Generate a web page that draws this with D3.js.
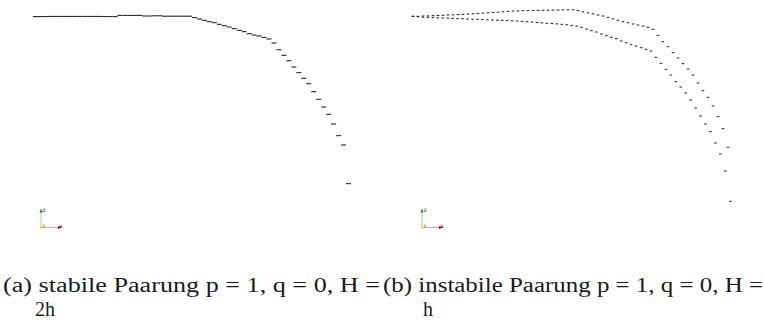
<!DOCTYPE html>
<html>
<head>
<meta charset="utf-8">
<script src="https://cdn.jsdelivr.net/npm/d3@7/dist/d3.min.js"></script>
<style>
  html, body { margin: 0; padding: 0; background: #fff; }
  svg { display: block; }
</style>
</head>
<body>
<svg id="fig" width="764" height="324"></svg>
<script>
// Deflection of each chain node below the support line (positive = downward).
// (a) stable pairing: one node row, drawn as short horizontal cell edges.
const stableDeflection = [
  0.1, 0.1, 0.1, -0.1, -0.1, -0.1, -0.1, -0.1, -0.1, -0.1, -0.1, -0.1, -0.1, -0.1,
  0.1, 0.1, 0.1, -1.1, -1.1, -1.1, -1.1, -1.1, -0.5, -0.5, -0.7, -0.7,
  -0.3, -0.3, -0.3, -0.3, -0.3, -0.3,
  1.1, 2.5, 3.8, 5.2, 6.2, 7.8, 9.2, 10.5, 12.2, 13.8, 15.2, 17.2, 18.5, 19.5,
  20.9, 22.5, 26.5, 33.2, 38.8, 44.2, 50.5, 56.2, 61.8, 67.2, 75.2, 82.8, 90.5,
  97.8, 107.5, 119.2, 128.5, 167.2
];

// (b) unstable pairing: the two node rows separate.
const unstableOuter = [
  -0.2, -0.2, -0.5, -0.6, -0.8, -1.0, -1.2, -1.5, -1.7, -1.9, -2.1, -2.4, -2.7,
  -3.1, -3.4, -3.7, -4.0, -4.3, -4.7, -5.1, -5.4, -5.6, -5.8, -5.9, -6.0, -6.1,
  -6.2, -6.3, -6.4, -6.5, -6.6, -6.7, -6.8,
  -5.9, -4.7, -3.6, -2.6, -1.5, -0.5, 0.9, 2.4, 3.8,
  5.2, 6.2, 7.5, 8.5, 9.5, 10.8, 12.8, 18.8, 25.2, 30.2, 36.2, 41.5, 47.2, 52.5,
  58.5, 66.5, 74.2, 80.8, 89.5, 100.2, 112.2, 130.8
];
const unstableInner = [
  -0.2, 0.3, 0.6, 0.9, 1.1, 1.3, 1.5, 1.7, 1.9, 2.1,
  2.3, 2.5, 2.7, 2.9, 3.1, 3.3, 3.5, 3.7, 3.9, 4.1,
  4.3, 4.5, 4.8, 5.2, 5.6, 6.0, 6.4, 6.8, 7.1, 7.4,
  7.8, 8.3, 8.9, 9.6,
  10.8, 12.5, 14.2, 15.5, 17.5, 19.2, 20.8, 22.2, 24.5, 26.2,
  28.2, 29.5, 31.2, 32.8, 34.5, 40.8, 46.8, 52.8, 58.5, 65.2,
  70.5, 76.5, 83.5, 91.5, 99.5, 107.5, 115.2, 126.5, 137.5, 154.5, 184.8
];

// Caption text
const captionA = ["(a) stabile Paarung p = 1, q = 0, H =", "2h"];
const captionB = ["(b) instabile Paarung p = 1, q = 0, H =", "h"];

const svg = d3.select("#fig");

// Shared vertical scale: deflection -> screen y
const y = d3.scaleLinear().domain([0, 170]).range([16.5, 186.5]);

// ---- Panel (a): horizontal cell edges ----
const xA = d3.scaleLinear().domain([0, stableDeflection.length]).range([33, 351]);
svg.append("g")
  .selectAll("line")
  .data(stableDeflection)
  .join("line")
  .attr("x1", (d, i) => xA(i))
  .attr("x2", (d, i) => xA(i + 1))
  .attr("y1", d => y(d))
  .attr("y2", d => y(d))
  .attr("stroke", "#111")
  .attr("stroke-width", 1);

// ---- Panel (b): node points as short dashes ----
const xOuter = d3.scaleLinear().domain([0, unstableOuter.length - 1]).range([413, 728]);
const xInner = d3.scaleLinear().domain([0, unstableInner.length - 1]).range([413, 730.3]);

function dots(data, xs) {
  svg.append("g")
    .selectAll("line")
    .data(data)
    .join("line")
    .attr("x1", (d, i) => xs(i) - 1.3)
    .attr("x2", (d, i) => xs(i) + 1.3)
    .attr("y1", d => y(d))
    .attr("y2", d => y(d))
    .attr("stroke", "#1a1a1a")
    .attr("stroke-width", 1);
}
dots(unstableOuter, xOuter);
dots(unstableInner, xInner);

// ---- Orientation triads ----
function triad(ox, oy) {
  const g = svg.append("g").attr("transform", `translate(${ox},${oy})`);
  g.append("line").attr("x1", 0).attr("y1", 0).attr("x2", 0).attr("y2", -17)
    .attr("stroke", "#86e886").attr("stroke-width", 1);
  g.append("line").attr("x1", 0).attr("y1", 0).attr("x2", 19).attr("y2", 0)
    .attr("stroke", "#ff9a9a").attr("stroke-width", 1);
  g.append("path").attr("d", "M-1.5,-15 L0,-19 L1.5,-15 Z").attr("fill", "#1c8a1c");
  g.append("path").attr("d", "M17,-1.5 L21,0 L17,1.5 Z").attr("fill", "#b00000");
  g.append("rect").attr("x", -1).attr("y", -1).attr("width", 2).attr("height", 2)
    .attr("fill", "#e8e000");
  g.append("text").attr("x", 1.5).attr("y", -16).text("z")
    .attr("font-family", "DejaVu Sans").attr("font-size", 6).attr("fill", "#1a4d1a");
  g.append("text").attr("x", 18).attr("y", 0).text("x")
    .attr("font-family", "DejaVu Sans").attr("font-size", 6).attr("fill", "#6a1010");
  g.append("text").attr("x", 1.5).attr("y", -0.5).text("y")
    .attr("font-family", "DejaVu Sans").attr("font-size", 5).attr("fill", "#666");
}
triad(41, 227.5);
triad(422, 227.5);

// ---- Captions ----
function caption(lines, x0, width, indent) {
  const t = svg.append("g")
    .attr("font-family", "'Liberation Serif'")
    .attr("font-size", 20)
    .attr("fill", "#1a1a1a");
  t.append("text").attr("x", x0).attr("y", 292)
    .attr("textLength", width).attr("lengthAdjust", "spacingAndGlyphs")
    .style("white-space", "pre")
    .text(lines[0]);
  t.append("text").attr("x", x0 + indent).attr("y", 316)
    .text(lines[1]);
}
caption(captionA, 3, 377, 32);
caption(captionB, 383, 380, 40);
</script>
</body>
</html>
